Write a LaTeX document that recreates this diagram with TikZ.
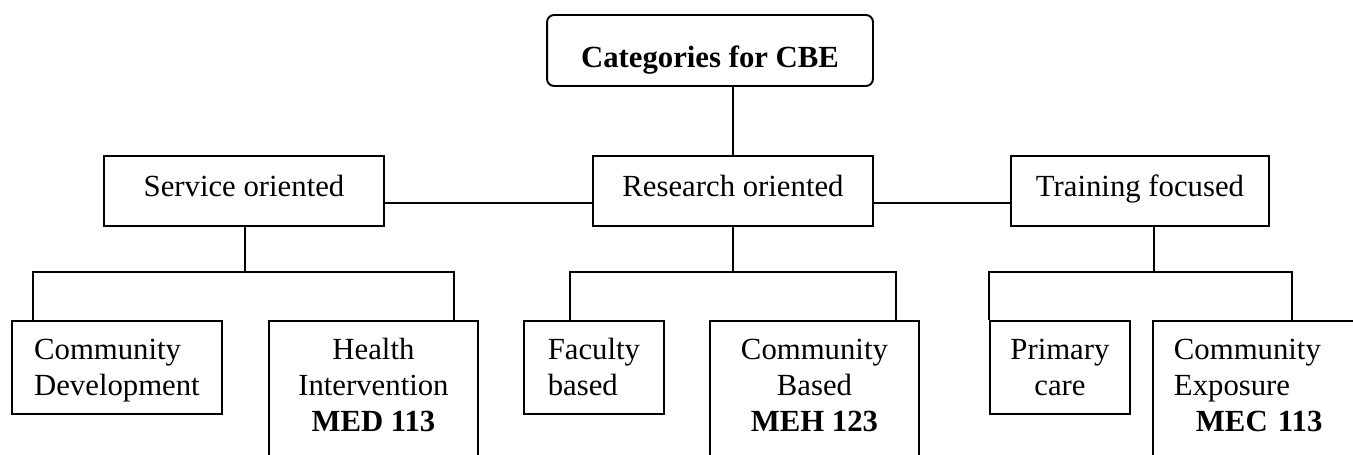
\documentclass[tikz,border=0pt]{standalone}
\usepackage{fontspec}
\setmainfont{Liberation Serif}
\usetikzlibrary{calc}
\newcommand{\topstrut}{\rule{0pt}{0.78cm}}
\newcommand{\basestrut}[1]{\rule[-#1]{0pt}{#1}}

\begin{document}
\begin{tikzpicture}[
    x=0.02cm, y=-0.02cm,
    every node/.style={font=\fontsize{17.5}{20.5}\selectfont},
    headbox/.style={rectangle, draw, line width=1.1pt, rounded corners=0.14cm, minimum width=6.52cm, minimum height=1.42cm, text height=0.7cm, text depth=0cm, inner sep=0pt},
    groupbox/.style={rectangle, draw, line width=1.1pt, minimum height=1.4cm, text height=0.42cm, text depth=0.18cm, inner sep=0pt},
    leafbox/.style={rectangle, draw, line width=1.1pt, anchor=north west, inner ysep=0pt, inner xsep=0.3cm},
    link/.style={line width=1.1pt},
]
\useasboundingbox (0,0) rectangle (1353,455);
\node[headbox] (cbe) at (710,50.5) {\bfseries Categories for CBE};
\node[groupbox, minimum width=5.6cm] (serv) at (244,191) {Service oriented};
\node[groupbox, minimum width=5.6cm] (res) at (733,191) {Research oriented};
\node[groupbox, minimum width=5.16cm] (train) at (1140,191) {Training focused};
% bottom row
\node[leafbox, minimum width=4.2cm, align=left] (cd) at (11,320) {\topstrut Community\\Development\basestrut{0.36cm}};
\node[leafbox, minimum width=4.18cm, align=center] (hi) at (268,320) {\topstrut Health\\Intervention\\\textbf{MED 113}\basestrut{1.3cm}};
\node[leafbox, minimum width=2.8cm, align=left] (fac) at (523,320) {\topstrut Faculty\\based\basestrut{0.36cm}};
\node[leafbox, minimum width=4.18cm, align=center] (cb) at (709,320) {\topstrut Community\\Based\\\textbf{MEH 123}\basestrut{1.3cm}};
\node[leafbox, minimum width=2.8cm, align=center] (pc) at (989,320) {\topstrut Primary\\care\basestrut{0.36cm}};
\node[leafbox, text width=4.6cm, inner xsep=0.42cm, align=left] (ce) at (1152,320) {\topstrut Community\\Exposure\\\hspace*{0.44cm}\textbf{MEC 113}\basestrut{1.3cm}};
% upper links
\draw[link] (res.north |- cbe.south) -- (res.north);
\draw[link] ([yshift=-0.24cm]serv.east) -- ([yshift=-0.24cm]res.west);
\draw[link] ([yshift=-0.24cm]res.east) -- ([yshift=-0.24cm]train.west);
% forks
\coordinate (servfork) at (245,272);
\coordinate (resfork) at (733,272);
\coordinate (trainfork) at (1154,272);
\draw[link] (servfork |- serv.south) -- (servfork);
\draw[link] ($(cd.north west)+(22,0)$) |- (servfork) -| ($(hi.north west)+(186,0)$);
\draw[link] (res.south) -- (resfork);
\draw[link] ($(fac.north west)+(47,0)$) |- (resfork) -| ($(cb.north west)+(187,0)$);
\draw[link] (trainfork |- train.south) -- (trainfork);
\draw[link] (pc.north west) |- (trainfork) -| ($(ce.north west)+(140,0)$);
\end{tikzpicture}
\end{document}
